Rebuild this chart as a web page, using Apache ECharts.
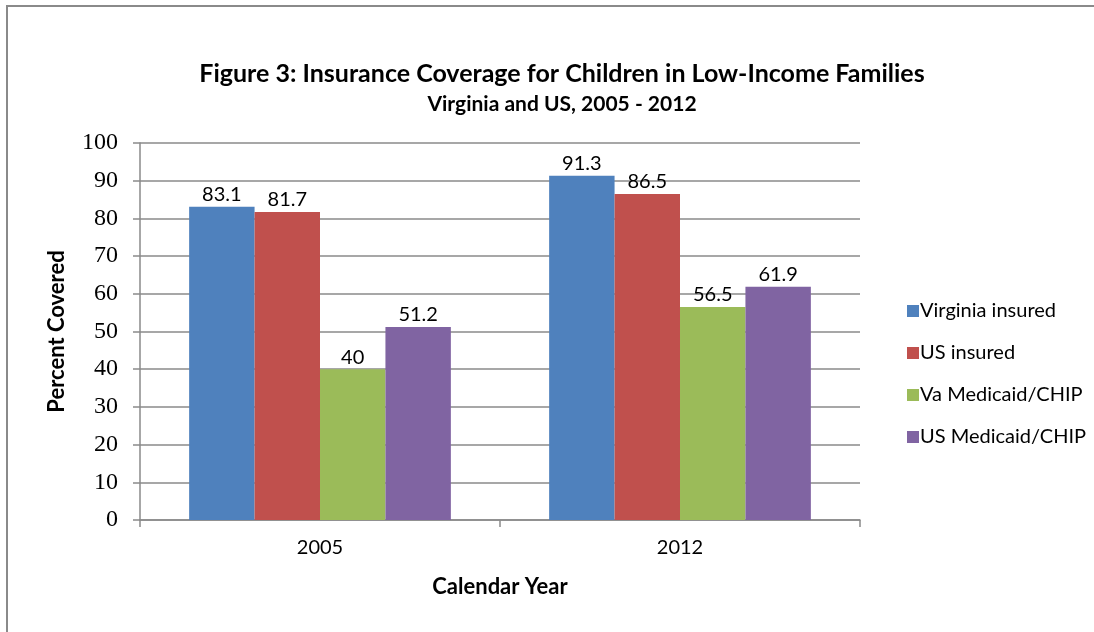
<!DOCTYPE html>
<html>
<head>
<meta charset="utf-8">
<script src="https://cdn.jsdelivr.net/npm/echarts@6/dist/echarts.min.js"></script>
<style>
  html, body { margin: 0; padding: 0; background: #fff; overflow: hidden; width: 100%; height: 100%; }
  #chart { position: fixed; left: 0; top: 0; width: 1094px; height: 632px; }
</style>
</head>
<body>
<div id="chart"></div>
<script>
// Calendar years on the x axis
const years = ['2005', '2012'];

// Percent of low-income children covered
const virginiaInsured = [83.1, 91.3];
const usInsured = [81.7, 86.5];
const vaMedicaidChip = [40, 56.5];
const usMedicaidChip = [51.2, 61.9];

const seriesNames = ['Virginia insured', 'US insured', 'Va Medicaid/CHIP', 'US Medicaid/CHIP'];
const seriesColors = ['#4F81BD', '#C0504D', '#9BBB59', '#8064A2'];
const seriesValues = [virginiaInsured, usInsured, vaMedicaidChip, usMedicaidChip];

const sansFont = 'Lato, "Open Sans", sans-serif';
const axisGray = '#8a8a8a';

const chart = echarts.init(document.getElementById('chart'), null, { renderer: 'canvas', width: 1094, height: 632 });

chart.setOption({
  animation: false,
  backgroundColor: '#fff',
  // chart-area frame: left and top edges
  graphic: [
    { type: 'line', shape: { x1: 7, y1: 6, x2: 7, y2: 640 }, style: { stroke: axisGray, lineWidth: 2 } },
    { type: 'line', shape: { x1: 6, y1: 6, x2: 1100, y2: 6 }, style: { stroke: axisGray, lineWidth: 2 } }
  ],
  title: {
    text: 'Figure 3: Insurance Coverage for Children in Low-Income Families',
    subtext: 'Virginia and US, 2005 - 2012',
    left: 557,
    textAlign: 'center',
    top: 56,
    itemGap: 8,
    textStyle: { fontFamily: sansFont, fontWeight: 'bold', fontSize: 25, color: '#000' },
    subtextStyle: { fontFamily: sansFont, fontWeight: 'bold', fontSize: 21, color: '#000' }
  },
  legend: {
    orient: 'vertical',
    left: 902,
    top: 296,
    itemGap: 22,
    icon: 'rect',
    itemWidth: 12,
    itemHeight: 12,
    textStyle: { fontFamily: sansFont, fontSize: 20, color: '#000', padding: [0, 0, 0, -4] },
    data: seriesNames
  },
  grid: { left: 140, right: 234, top: 143, bottom: 112 },
  xAxis: {
    type: 'category',
    data: years,
    name: 'Calendar Year',
    nameLocation: 'middle',
    nameGap: 56,
    nameTextStyle: { fontFamily: sansFont, fontWeight: 'bold', fontSize: 22, color: '#000' },
    axisLine: { show: true, lineStyle: { color: axisGray, width: 1.5 } },
    axisTick: { show: true, length: 7, lineStyle: { color: axisGray, width: 1.5 } },
    axisLabel: { fontFamily: sansFont, fontSize: 20, color: '#000', margin: 18 }
  },
  yAxis: {
    type: 'value',
    min: 0,
    max: 100,
    interval: 10,
    name: 'Percent Covered',
    nameLocation: 'middle',
    nameGap: 72,
    nameRotate: 90,
    nameTextStyle: { fontFamily: sansFont, fontWeight: 'bold', fontSize: 22, color: '#000' },
    axisLine: { show: true, lineStyle: { color: axisGray, width: 1.5 } },
    axisTick: { show: true, length: 7, lineStyle: { color: axisGray, width: 1.5 } },
    splitLine: { show: true, lineStyle: { color: axisGray, width: 1.5 } },
    axisLabel: { fontFamily: '"Liberation Serif", "Times New Roman", serif', fontSize: 24, color: '#000', margin: 22 }
  },
  series: seriesNames.map((name, i) => ({
    name: name,
    type: 'bar',
    data: seriesValues[i],
    barGap: '0%',
    barCategoryGap: '27.3%',
    itemStyle: { color: seriesColors[i] },
    label: {
      show: true,
      position: 'top',
      distance: 2,
      fontFamily: sansFont,
      fontSize: 20,
      color: '#000'
    }
  }))
});
</script>
</body>
</html>
